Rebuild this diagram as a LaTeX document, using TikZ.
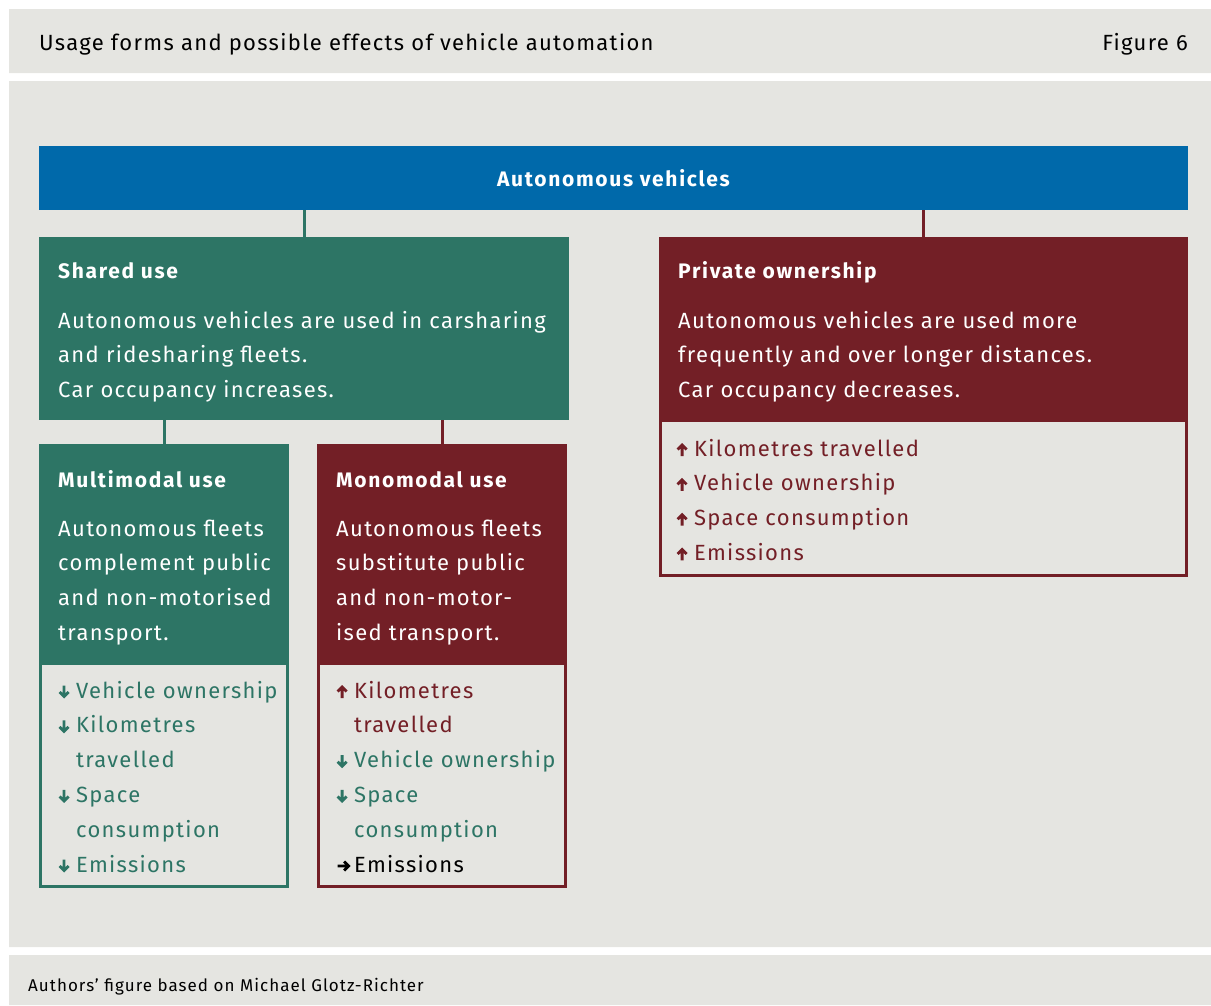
\documentclass[tikz,border=0pt]{standalone}
\usepackage{fontspec}
\setmainfont{Fira Sans}[LetterSpace=6]
\newfontfamily\headfont{Fira Sans}[LetterSpace=8]
\usetikzlibrary{positioning}
\definecolor{panelgray}{HTML}{E5E5E1}
\definecolor{avblue}{HTML}{0069AA}
\definecolor{sharegreen}{HTML}{2D7565}
\definecolor{ownred}{HTML}{731F26}
\tikzset{effarrow/.style={line width=2.8pt,line join=miter}}
\newcommand\up{\makebox[18pt][l]{\tikz[baseline=0pt]\draw[effarrow](5.5pt,0pt)--(5.5pt,11pt)(1pt,6.5pt)--(5.5pt,11pt)--(10pt,6.5pt);}}
\newcommand\dn{\makebox[18pt][l]{\tikz[baseline=0pt]\draw[effarrow](5.5pt,12.5pt)--(5.5pt,1.5pt)(1pt,6pt)--(5.5pt,1.5pt)--(10pt,6pt);}}
\newcommand\rt{\makebox[18pt][l]{\tikz[baseline=0pt]\draw[effarrow](0pt,6pt)--(11pt,6pt)(6.5pt,1.5pt)--(11pt,6pt)--(6.5pt,10.5pt);}}
\newcommand\ind{\hspace*{18pt}}
\begin{document}
\begin{tikzpicture}[x=1pt,y=-1pt,
    box/.style={anchor=north west,inner sep=0pt,outer sep=0pt},
    fxbox/.style={box,line width=3pt},
    head/.style={anchor=base west,inner sep=0pt,text=white,font=\headfont\bfseries\fontsize{21}{25}\selectfont},
    body/.style={anchor=north west,inner sep=0pt,align=left,font=\fontsize{22}{34.8}\selectfont},
    link/.style={line width=3pt}]
    \useasboundingbox(0,0)rectangle(1211,1005);
    \fill[panelgray](9,9)rectangle(1211,73)(9,81)rectangle(1211,947)(9,955)rectangle(1211,1005);
    \node[anchor=base west,inner sep=0pt,font=\fontsize{22}{26}\selectfont](title)at(39,50){Usage forms and possible effects of vehicle automation};
    \node[anchor=base east,inner sep=0pt,font=\fontsize{22}{26}\selectfont](fignum)at(1188,50){Figure 6};
    \node[anchor=base west,inner sep=0pt,font=\fontsize{17}{20}\selectfont](source)at(28,991){Authors’ figure based on Michael Glotz-Richter};
    \node[box,fill=avblue,minimum width=1149pt,minimum height=64pt,text=white,font=\headfont\bfseries\fontsize{21}{25}\selectfont](av)at(39,146){Autonomous vehicles};
    \node[box,fill=sharegreen,minimum width=530pt,minimum height=183pt](shared)at(39,237){};
    \node[box,fill=ownred,minimum width=529pt,minimum height=183pt](private)at(659,237){};
    \node[fxbox,draw=ownred,minimum width=526pt,minimum height=155.5pt](privfx)at(660.5,420){};
    \node[box,fill=sharegreen,minimum width=250pt,minimum height=219pt](multi)at(39,444){};
    \node[fxbox,draw=sharegreen,minimum width=247pt,minimum height=223.5pt](multifx)at(40.5,663){};
    \node[box,fill=ownred,minimum width=250pt,minimum height=219pt](mono)at(317,444){};
    \node[fxbox,draw=ownred,minimum width=247pt,minimum height=223.5pt](monofx)at(318.5,663){};
    \draw[link,sharegreen](shared.north)--(shared.north|-av.south);
    \draw[link,ownred](private.north)--(private.north|-av.south);
    \draw[link,sharegreen](multi.north)--(multi.north|-shared.south);
    \draw[link,ownred](mono.north)--(mono.north|-shared.south);
    \node[head](sharedhead)at(58,278){Shared use};
    \node[body,text=white](sharedtext)at(58,303.5){\strut Autonomous vehicles are used in carsharing\\and ridesharing fleets.\\Car occupancy increases.};
    \node[head](privhead)at(678,278){Private ownership};
    \node[body,text=white](privtext)at(678,303.5){\strut Autonomous vehicles are used more\\frequently and over longer distances.\\Car occupancy decreases.};
    \node[body,text=ownred](privlist)at(676,431.5){\strut\up Kilometres travelled\\\up Vehicle ownership\\\up Space consumption\\\up Emissions};
    \node[head](multihead)at(58,487){Multimodal use};
    \node[body,text=white](multitext)at(58,511.5){\strut Autonomous fleets\\complement public\\and non-motorised\\transport.};
    \node[body,text=sharegreen](multilist)at(58,673.5){\strut\dn Vehicle ownership\\\dn Kilometres\\\ind travelled\\\dn Space\\\ind consumption\\\dn Emissions};
    \node[head](monohead)at(336,487){Monomodal use};
    \node[body,text=white](monotext)at(336,511.5){\strut Autonomous fleets\\substitute public\\and non-motor-\\ised transport.};
    \node[body](monolist)at(336,673.5){\strut\textcolor{ownred}{\up Kilometres}\\\textcolor{ownred}{\ind travelled}\\\textcolor{sharegreen}{\dn Vehicle ownership}\\\textcolor{sharegreen}{\dn Space}\\\textcolor{sharegreen}{\ind consumption}\\\rt Emissions};
\end{tikzpicture}
\end{document}
